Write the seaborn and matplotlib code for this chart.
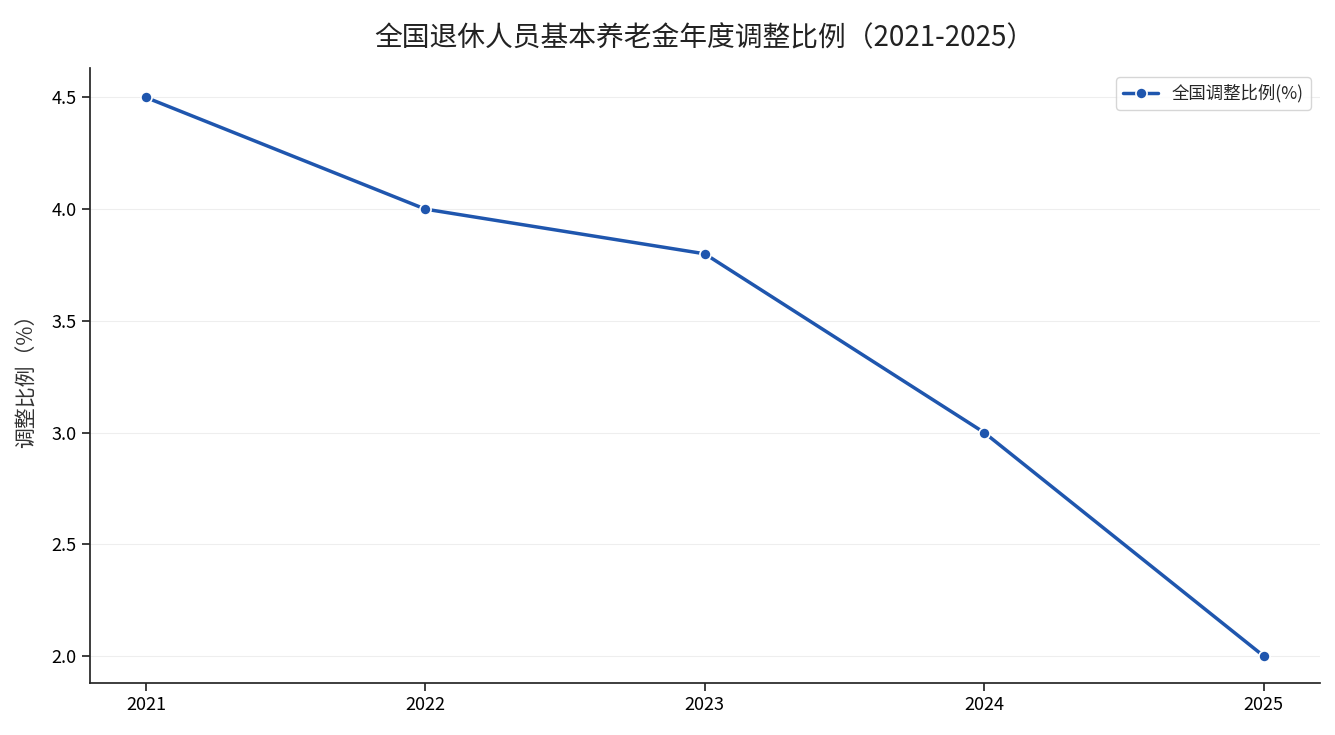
import matplotlib
matplotlib.use('Agg')
import matplotlib.pyplot as plt
import seaborn as sns
import pandas as pd

years = ["2021", "2022", "2023", "2024", "2025"]
ratios = [4.5, 4.0, 3.8, 3.0, 2.0]
series_name = "全国调整比例(%)"

sns.set_theme(style="ticks")
plt.rcParams['font.family'] = ['Noto Sans CJK SC', 'DejaVu Sans']

df = pd.DataFrame({"year": years, "ratio": ratios})

fig = plt.figure(figsize=(13.35, 7.35), dpi=100)
ax = fig.add_axes([0.0674, 0.071, 0.921, 0.836])
sns.lineplot(data=df, x="year", y="ratio", ax=ax, color="#1f56ae", linewidth=2.5,
             marker="o", markersize=8, markeredgecolor="white", markeredgewidth=1.2,
             label=series_name, sort=False)

ax.set_title("全国退休人员基本养老金年度调整比例（2021-2025）", fontsize=20, pad=16,
             color="#222222")
ax.set_xlabel("")
ax.set_ylabel("调整比例（%）", fontsize=15, labelpad=10, color="#333333")
ax.set_ylim(1.88, 4.63)
ax.set_yticks([2.0, 2.5, 3.0, 3.5, 4.0, 4.5])
ax.set_yticklabels(["2.0", "2.5", "3.0", "3.5", "4.0", "4.5"])
ax.set_xlim(-0.2, 4.2)
ax.tick_params(labelsize=13, labelcolor="black")
ax.grid(axis="y", color="#eeeeee", linewidth=0.8)
sns.despine(ax=ax)
ax.legend(loc="upper right", fontsize=12.5, frameon=True)

fig.savefig("out.png", dpi=100)
